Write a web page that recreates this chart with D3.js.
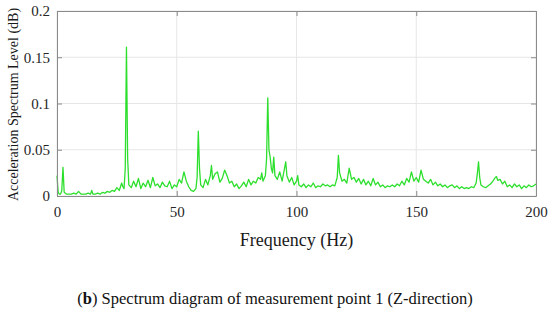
<!DOCTYPE html>
<html>
<head>
<meta charset="utf-8">
<script src="https://cdn.jsdelivr.net/npm/d3@7"></script>
<style>
  body { margin: 0; background: #fff; }
  text { font-family: "Liberation Serif", "DejaVu Serif", serif; }
</style>
</head>
<body>
<svg id="chart_svg" width="550" height="320"></svg>
<script>
// spectrum (Hz / level)
var freq = [0, 0.5, 1, 1.5, 2, 2.5, 3, 4, 5, 6, 7, 8, 9, 10, 11, 12, 13, 14, 14.5, 15,
  16, 17, 18, 19, 20, 21, 22, 23, 24, 25, 26, 27, 27.5, 28, 28.5, 29, 29.5, 30,
  31, 32, 33, 34, 35, 36, 37, 38, 39, 40, 41, 42, 43, 44, 45, 46, 47, 48, 49, 50,
  51, 52, 53, 54, 55, 56, 57, 58, 58.5, 59, 59.5, 60,
  61, 62, 63, 64, 64.5, 65, 66, 67, 68, 69, 70, 71, 72, 73, 74, 75, 76, 77, 78, 79, 80,
  81, 82, 83, 84, 85, 85.5, 86, 87, 87.5, 88, 88.5, 89, 89.5, 90, 90.5,
  91, 92, 93, 94, 95, 95.5, 96, 97, 98, 99, 100, 100.5,
  101, 102, 103, 104, 105, 106, 107, 108, 109, 110, 111, 112, 113, 114, 115, 116, 117, 117.5, 118, 119, 120,
  121, 122, 123, 124, 125, 126, 127, 128, 129, 130, 131, 132, 133, 134, 135, 136, 137, 138, 139, 140,
  141, 142, 143, 144, 145, 146, 147, 148, 149, 150, 151, 152, 153, 154, 155, 156, 157, 158, 159, 160,
  161, 162, 163, 164, 165, 166, 167, 168, 169, 170, 171, 172, 173, 174, 175, 175.5, 176, 176.5, 177, 178, 179, 180,
  181, 182, 183, 183.5, 184, 185, 186, 187, 188, 189, 190, 191, 192, 193, 194, 195, 196, 197, 198, 199, 200];

var level = [0.022, 0.004, 0.002, 0.002, 0.006, 0.031, 0.004, 0.002, 0.002, 0.002, 0.003, 0.002, 0.005, 0.002, 0.002, 0.002, 0.003, 0.002, 0.006, 0.002,
  0.002, 0.003, 0.002, 0.004, 0.003, 0.005, 0.004, 0.006, 0.005, 0.009, 0.006, 0.014, 0.010, 0.008, 0.030, 0.161, 0.040, 0.012,
  0.009, 0.016, 0.010, 0.019, 0.008, 0.014, 0.010, 0.017, 0.009, 0.020, 0.011, 0.013, 0.009, 0.015, 0.011, 0.010, 0.016, 0.008, 0.012, 0.010,
  0.018, 0.014, 0.026, 0.016, 0.010, 0.006, 0.005, 0.008, 0.020, 0.070, 0.030, 0.012,
  0.009, 0.018, 0.012, 0.022, 0.033, 0.018, 0.024, 0.026, 0.015, 0.019, 0.028, 0.022, 0.014, 0.016, 0.010, 0.013, 0.008, 0.011, 0.015, 0.010, 0.018,
  0.012, 0.016, 0.014, 0.020, 0.018, 0.025, 0.016, 0.022, 0.040, 0.106, 0.050, 0.042, 0.030, 0.025, 0.042,
  0.022, 0.018, 0.026, 0.016, 0.030, 0.037, 0.022, 0.015, 0.020, 0.012, 0.016, 0.022,
  0.012, 0.010, 0.013, 0.009, 0.012, 0.010, 0.014, 0.009, 0.011, 0.010, 0.013, 0.011, 0.012, 0.010, 0.012, 0.011, 0.020, 0.044, 0.025, 0.016, 0.018,
  0.014, 0.030, 0.018, 0.020, 0.015, 0.019, 0.013, 0.018, 0.012, 0.016, 0.011, 0.019, 0.012, 0.015, 0.010, 0.012, 0.009, 0.011, 0.010, 0.012,
  0.010, 0.013, 0.011, 0.016, 0.012, 0.019, 0.015, 0.026, 0.016, 0.020, 0.015, 0.028, 0.018, 0.016, 0.014, 0.018, 0.012, 0.015, 0.011, 0.013,
  0.010, 0.012, 0.009, 0.011, 0.012, 0.009, 0.011, 0.008, 0.010, 0.008, 0.009, 0.008, 0.010, 0.009, 0.014, 0.024, 0.037, 0.020, 0.012, 0.010, 0.009, 0.011,
  0.013, 0.016, 0.020, 0.021, 0.017, 0.018, 0.013, 0.016, 0.010, 0.012, 0.009, 0.013, 0.010, 0.012, 0.008, 0.011, 0.009, 0.012, 0.010, 0.011, 0.013];

var xTicks = [0, 50, 100, 150, 200];
var yTicks = [0, 0.05, 0.1, 0.15, 0.2];
var yTickLabels = ['0', '0.05', '0.1', '0.15', '0.2'];

drawSpectrum();

function drawSpectrum() {
  var margin = { top: 11, right: 14, bottom: 124, left: 57 },
    width = 550 - margin.left - margin.right,
    height = 320 - margin.top - margin.bottom;

  var svg = d3.select('#chart_svg');
  var g = svg.append('g').attr("transform", "translate(" + margin.left + "," + margin.top + ")");

  var x = d3.scaleLinear().domain([0, 200]).range([0, width]);
  var y = d3.scaleLinear().domain([0, 0.2]).range([height, 0]);

  // grid
  g.selectAll(".vgrid")
    .data(xTicks)
    .enter()
    .append("line")
    .attr("x1", d => x(d)).attr("x2", d => x(d))
    .attr("y1", 0).attr("y2", height)
    .style("stroke", "#e6e6e6")
    .style("stroke-width", 1)

  g.selectAll(".hgrid")
    .data(yTicks)
    .enter()
    .append("line")
    .attr("x1", 0).attr("x2", width)
    .attr("y1", d => y(d)).attr("y2", d => y(d))
    .style("stroke", "#e6e6e6")
    .style("stroke-width", 1)

  // the spectrum
  var pts = freq.map((f, i) => [f, level[i]]);
  g.append("path")
    .datum(pts)
    .attr("d", d3.line().x(d => x(d[0])).y(d => y(d[1])))
    .style("fill", "none")
    .style("stroke", "#2ddf2d")
    .style("stroke-width", 1.3)
    .style("stroke-linejoin", "round")

  // axes, ticks pointing inward like matlab
  var xAxis = d3.axisBottom(x).tickValues(xTicks).tickSizeInner(-5).tickSizeOuter(0).tickPadding(10);
  var yAxis = d3.axisLeft(y).tickValues(yTicks).tickFormat((d, i) => yTickLabels[i]).tickSizeInner(-5).tickSizeOuter(0).tickPadding(7);

  var gx = g.append("g").attr("transform", "translate(0," + height + ")").call(xAxis);
  var gy = g.append("g").call(yAxis);

  var gxTop = g.append("g").call(d3.axisTop(x).tickValues(xTicks).tickSizeInner(-5).tickSizeOuter(0).tickFormat(""));
  var gyRight = g.append("g").attr("transform", "translate(" + width + ",0)")
    .call(d3.axisRight(y).tickValues(yTicks).tickSizeInner(-5).tickSizeOuter(0).tickFormat(""));

  [gx, gy, gxTop, gyRight].forEach(function (a) {
    a.select(".domain").style("stroke", "#8a8a8a");
    a.selectAll(".tick line").style("stroke", "#8a8a8a");
    a.selectAll(".tick text")
      .style("font-family", "'Liberation Serif', serif")
      .style("font-size", "15px")
      .style("fill", "#262626");
  });

  // axis titles
  svg.append("text")
    .attr("x", margin.left + width / 2)
    .attr("y", 246)
    .attr("text-anchor", "middle")
    .style("font-size", "18px")
    .style("fill", "#1a1a1a")
    .text("Frequency (Hz)")

  svg.append("text")
    .attr("transform", "translate(18," + (margin.top + height / 2 + 1) + ") rotate(-90)")
    .attr("text-anchor", "middle")
    .style("font-size", "14px")
    .style("fill", "#1a1a1a")
    .text("Acceleration Spectrum Level (dB)")

  // caption
  var cap = svg.append("text")
    .attr("x", 275)
    .attr("y", 304)
    .attr("text-anchor", "middle")
    .style("font-size", "16.5px")
    .style("fill", "#111")
  cap.append("tspan").text("(")
  cap.append("tspan").style("font-weight", "bold").text("b")
  cap.append("tspan").text(") Spectrum diagram of measurement point 1 (Z-direction)")
}
</script>
</body>
</html>
